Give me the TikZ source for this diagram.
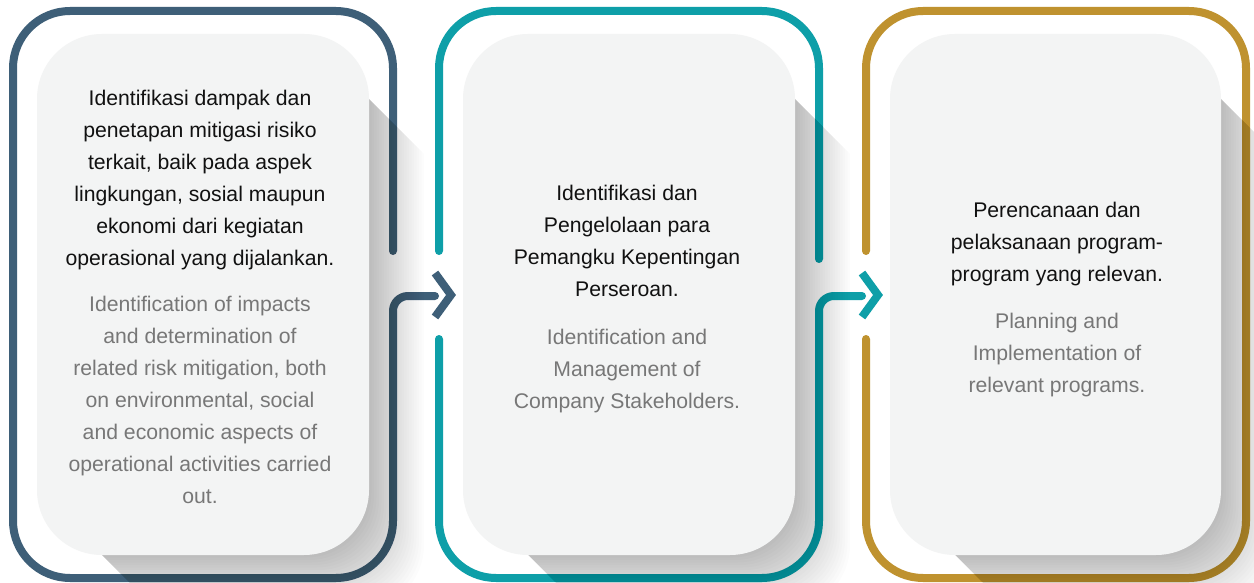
\documentclass[tikz,border=0pt]{standalone}
\usepackage{fontspec}
\setmainfont{Liberation Sans}
\definecolor{slate}{HTML}{3E5F78}
\definecolor{tealc}{HTML}{0E9FA8}
\definecolor{goldc}{HTML}{BF922F}
\definecolor{boxfill}{HTML}{F3F4F4}
\definecolor{idtext}{HTML}{111111}
\definecolor{entext}{HTML}{777777}
\newcommand\longshadow[4]{%
  \foreach \k in {1,...,22}{%
    \pgfmathsetmacro\L{2.5*\k}%
    \fill[black, fill opacity=0.012] (#3,#2+65) -- (#3+\L,#2+65+\L) -- (#3+\L,#4-65+\L)
      arc[start angle=0,end angle=90,radius=65] -- (#1+65+\L,#4+\L) -- (#1+65,#4) -- cycle;
  }}
\begin{document}
\begin{tikzpicture}[x=1pt,y=-1pt,
  frame/.style={line width=8pt, line cap=round, line join=round, rounded corners=57pt},
  chev/.style={line width=8pt, line cap=butt, line join=miter},
  innerbox/.style={fill=boxfill, rounded corners=65pt},
  idt/.style={text=idtext, align=center, font=\fontsize{21.2}{32}\selectfont, inner sep=0pt},
  ent/.style={text=entext, align=center, font=\fontsize{21.2}{32}\selectfont, inner sep=0pt}]
\useasboundingbox[fill=white] (0,0) rectangle (1254,583);
% frames
\draw[frame, slate] (393,251) -- (393,11) -- (13,11) -- (13,578) -- (393,578) -- (393,400)
  [rounded corners=15pt] -- (393,296) -- (435,296);
\draw[frame, tealc] (439,251) -- (439,11) -- (819,11) -- (819,259);
\draw[frame, tealc] (439,339) -- (439,578) -- (819,578) -- (819,400)
  [rounded corners=15pt] -- (819,296) -- (862,296);
\draw[frame, goldc] (866,251) -- (866,11) -- (1246,11) -- (1246,578) -- (866,578) -- (866,339);
% chevrons
\draw[chev, slate] (435,273) -- (451,295) -- (435,317);
\draw[chev, tealc] (862,273) -- (878,295) -- (862,317);
% shadows
\longshadow{37}{34}{369}{555}
\longshadow{463}{34}{795}{555}
\longshadow{890}{34}{1221}{555}
% inner boxes
\fill[innerbox] (37,34) rectangle (369,555);
\fill[innerbox] (463,34) rectangle (795,555);
\fill[innerbox] (890,34) rectangle (1221,555);
% texts
\node[idt] (id1) at (200,180) {Identifikasi dampak dan\\penetapan mitigasi risiko\\terkait, baik pada aspek\\lingkungan, sosial maupun\\ekonomi dari kegiatan\\operasional yang dijalankan.};
\node[ent] (en1) at (200,400) {Identification of impacts\\and determination of\\related risk mitigation, both\\on environmental, social\\and economic aspects of\\operational activities carried\\out.};
\node[idt] (id2) at (627,241) {Identifikasi dan\\Pengelolaan para\\Pemangku Kepentingan\\Perseroan.};
\node[ent] (en2) at (627,371) {Identification and\\Management of\\Company Stakeholders.};
\node[idt] (id3) at (1057,244) {Perencanaan dan\\pelaksanaan program-\\program yang relevan.};
\node[ent] (en3) at (1057,355) {Planning and\\Implementation of\\relevant programs.};
\end{tikzpicture}
\end{document}
